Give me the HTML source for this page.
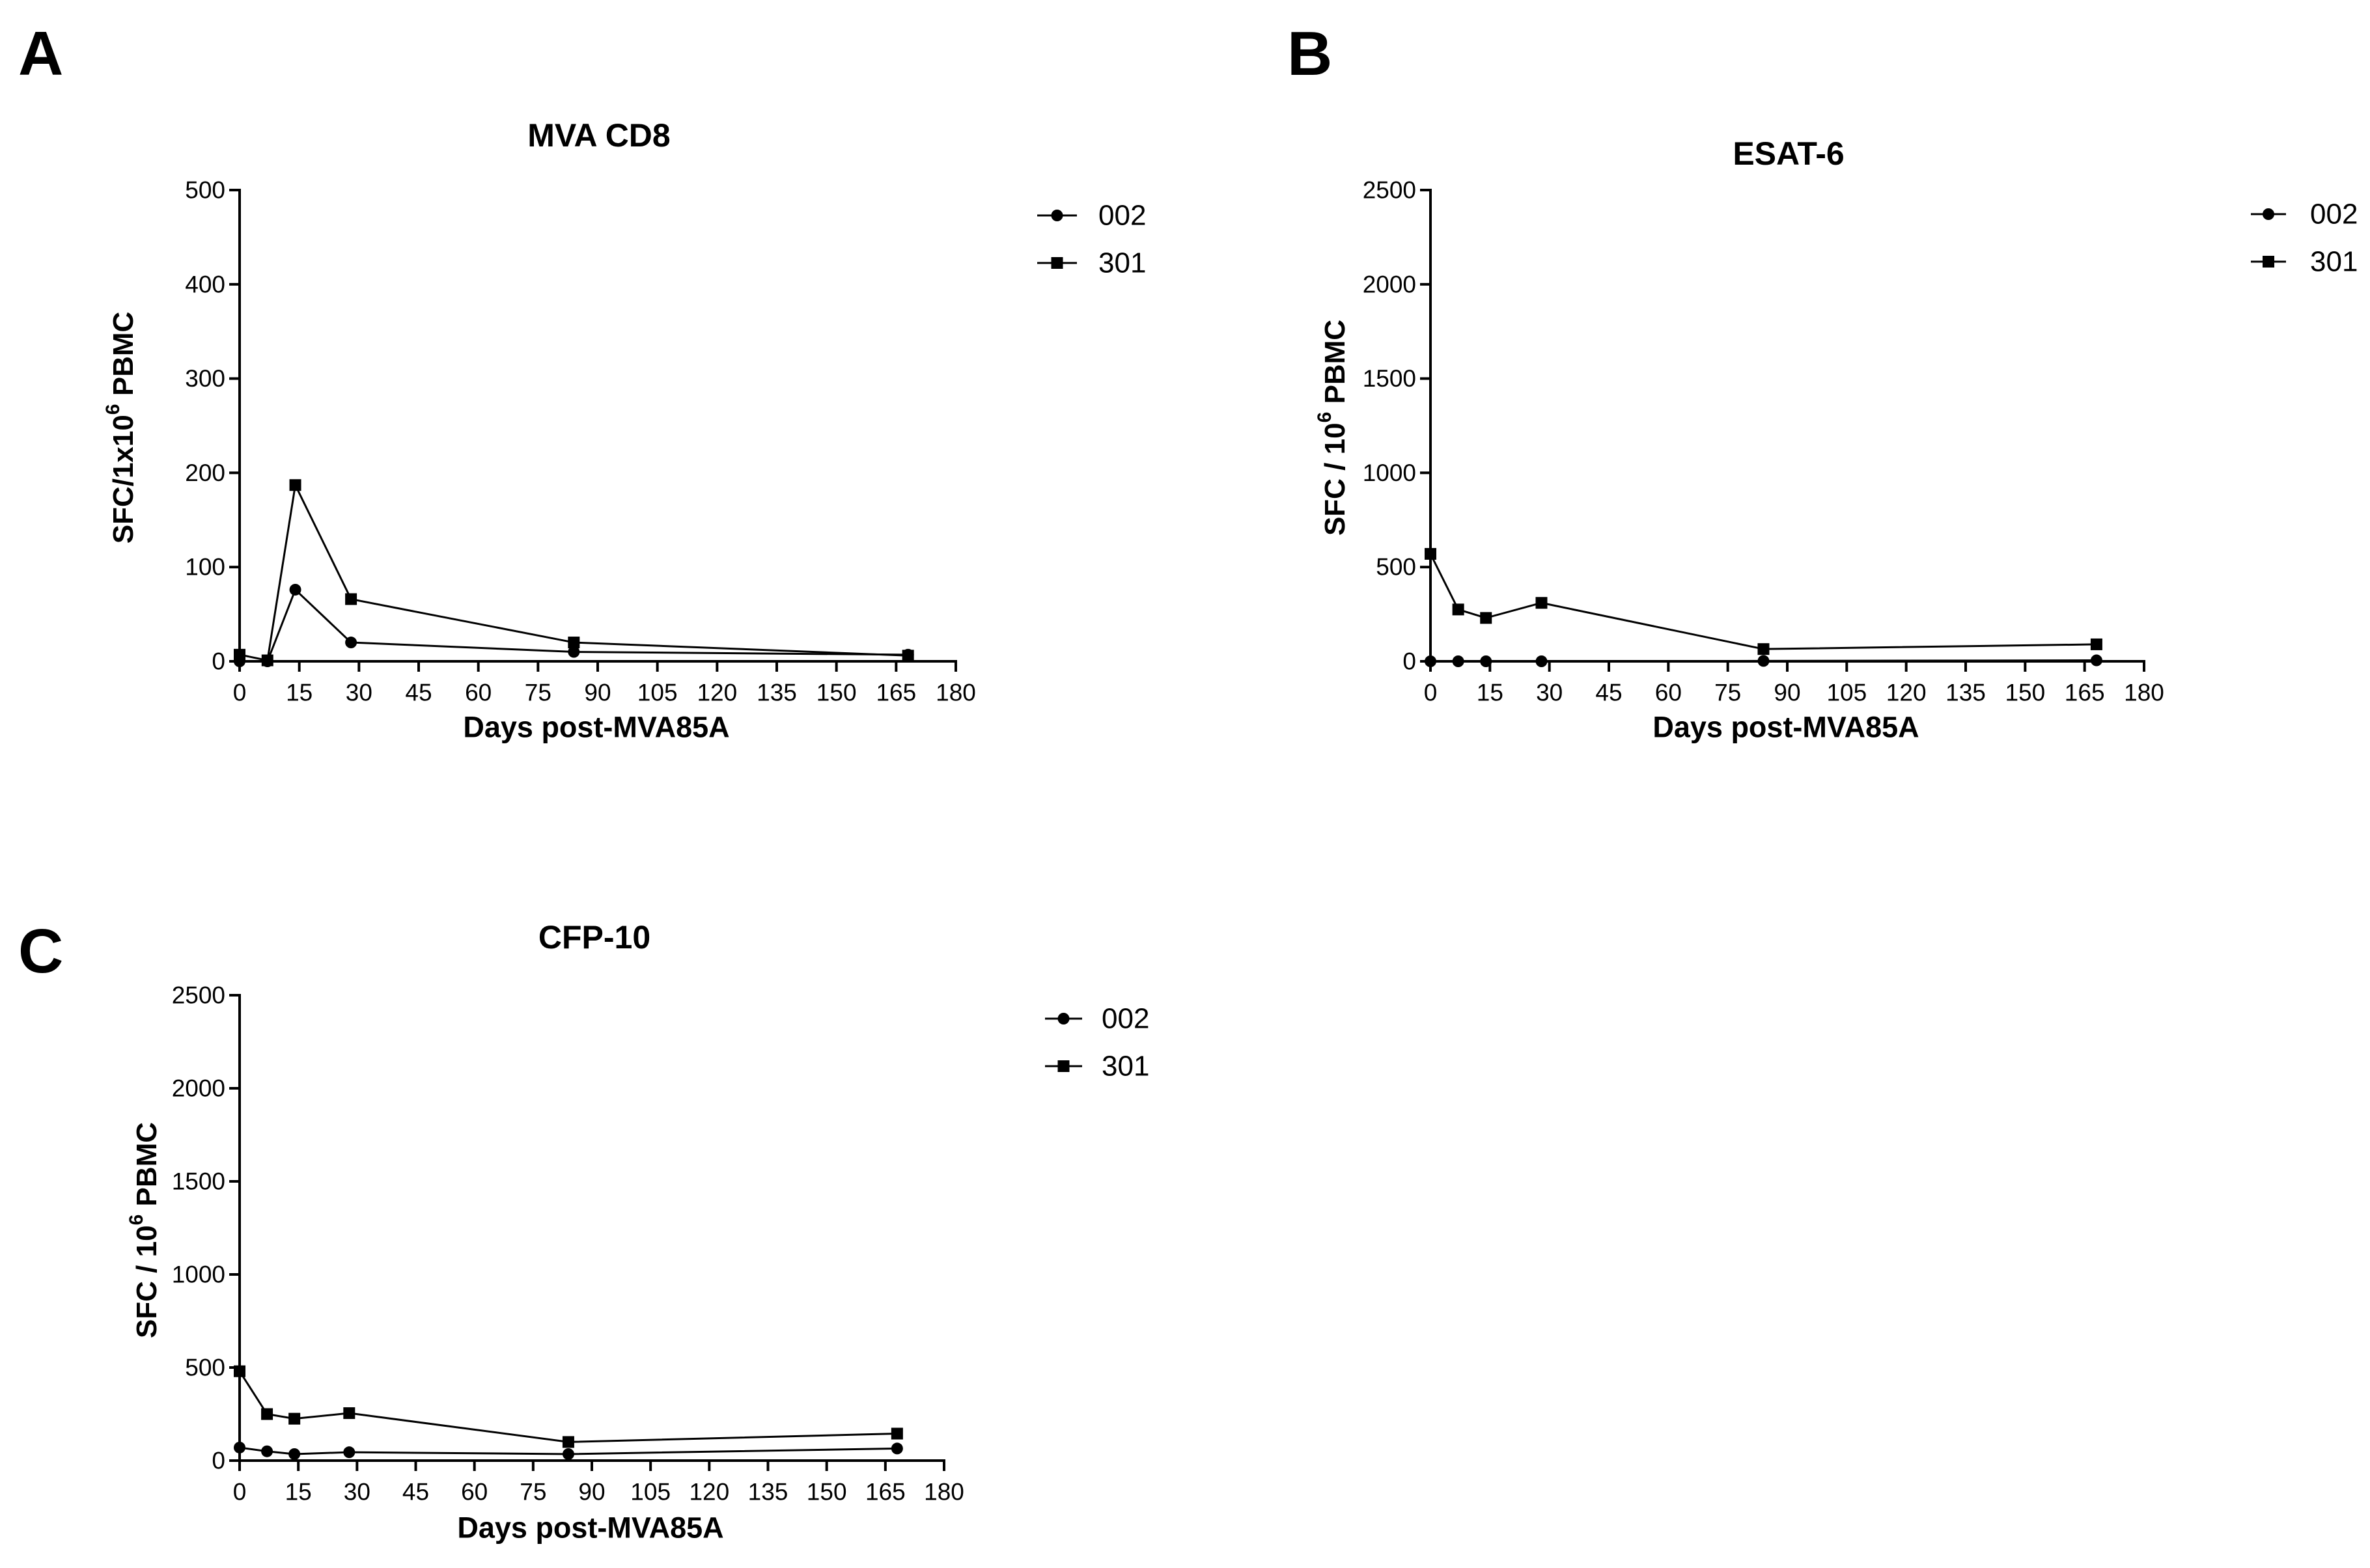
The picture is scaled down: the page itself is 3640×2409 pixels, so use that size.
<!DOCTYPE html>
<html><head><meta charset="utf-8"><style>
html,body{margin:0;padding:0;background:#fff}
svg{display:block}
text{font-family:"Liberation Sans",Arial,sans-serif;fill:#000}
</style></head><body>
<svg id="fig" width="3640" height="2409" viewBox="0 0 3640 2409" xmlns="http://www.w3.org/2000/svg"></svg>
<script>
const days = [0, 7, 14, 28, 84, 168];
const xTicks = [0,15,30,45,60,75,90,105,120,135,150,165,180];
const seriesNames = ["002", "301"];
const aS002 = [0, 0, 76, 20, 10, 7];
const aS301 = [7, 1, 187, 66, 20, 6];
const aYTicks = [0, 100, 200, 300, 400, 500];
const bS002 = [0, 0, 0, 0, 2, 5];
const bS301 = [570, 275, 230, 310, 65, 90];
const bYTicks = [0, 500, 1000, 1500, 2000, 2500];
const cS002 = [70, 50, 35, 45, 35, 65];
const cS301 = [480, 250, 225, 255, 100, 145];
const cYTicks = [0, 500, 1000, 1500, 2000, 2500];

const NS = "http://www.w3.org/2000/svg";
const svg = document.getElementById('fig');
function mk(tag, attrs, parent, txt){
  const e = document.createElementNS(NS, tag);
  for (const k in attrs) e.setAttribute(k, attrs[k]);
  if (txt !== undefined) e.textContent = txt;
  (parent||svg).appendChild(e);
  return e;
}

function panel(cfg){
  const g = mk('g', {});
  
  
  const {x0, x1, y0, y1} = cfg;
  const ymax = cfg.yTicks[cfg.yTicks.length-1];
  const sx = d => x0 + (d/180)*(x1-x0);
  const sy = v => y0 - (v/ymax)*(y0-y1);

  const lab = mk('text', {x: cfg.labX, y: cfg.labY, 'font-size': 96, 'font-weight': 'bold'}, g, cfg.letter);
  
  
  const t = mk('text', {x: cfg.titleX, y: cfg.titleY, 'font-size': 50, 'font-weight': 'bold', 'text-anchor': 'middle', 'dominant-baseline': 'central'}, g, cfg.title);
  
  

  const ya = mk('line', {x1: x0, y1: y1-2, x2: x0, y2: y0+2, stroke: '#000', 'stroke-width': 4}, g);
  
  
  const xa = mk('line', {x1: x0-2, y1: y0, x2: x1+2, y2: y0, stroke: '#000', 'stroke-width': 4}, g);
  
  

  cfg.yTicks.forEach(v => {
    mk('line', {x1: x0-16, y1: sy(v), x2: x0, y2: sy(v), stroke: '#000', 'stroke-width': 4}, g);
    const tl = mk('text', {x: x0-22, y: sy(v), 'font-size': 37, 'text-anchor': 'end', 'dominant-baseline': 'central'}, g, String(v));
    
    
  });
  xTicks.forEach(d => {
    mk('line', {x1: sx(d), y1: y0, x2: sx(d), y2: y0+16, stroke: '#000', 'stroke-width': 4}, g);
    const tl = mk('text', {x: sx(d), y: y0+48, 'font-size': 37, 'text-anchor': 'middle', 'dominant-baseline': 'central'}, g, String(d));
    
    
  });

  const xt = mk('text', {x: (x0+x1)/2 - 2, y: cfg.xTitleY, 'font-size': 45, 'font-weight': 'bold', 'text-anchor': 'middle', 'dominant-baseline': 'central'}, g, 'Days post-MVA85A');
  
  

  const yt = mk('text', {x: 0, y: 0, 'font-size': 44, 'font-weight': 'bold', 'text-anchor': 'middle', 'dominant-baseline': 'central', transform: `translate(${cfg.yTitleX},${cfg.yTitleY}) rotate(-90)`}, g);
  
  
  mk('tspan', {}, yt, cfg.yPre);
  mk('tspan', {'font-size': 30, dy: -16}, yt, '6');
  mk('tspan', {dy: 16}, yt, ' PBMC');

  const series = [cfg.s002, cfg.s301];
  series.forEach((vals, si) => {
    const pts = days.map((d,i) => sx(d) + ',' + sy(vals[i])).join(' ');
    const pl = mk('polyline', {points: pts, fill: 'none', stroke: '#000', 'stroke-width': 3}, g);
    
    
    days.forEach((d,i) => {
      let m;
      if (si === 0) m = mk('circle', {cx: sx(d), cy: sy(vals[i]), r: 9, fill: '#000'}, g);
      else m = mk('rect', {x: sx(d)-9, y: sy(vals[i])-9, width: 18, height: 18, fill: '#000'}, g);
      
      
    });
  });

  seriesNames.forEach((n, si) => {
    const ly = cfg.legY[si];
    const lg = mk('g', {}, g);
    
    
    mk('line', {x1: cfg.legX1, y1: ly, x2: cfg.legX2, y2: ly, stroke: '#000', 'stroke-width': 3}, lg);
    const mx = (cfg.legX1 + cfg.legX2)/2;
    if (si === 0) mk('circle', {cx: mx, cy: ly, r: 9, fill: '#000'}, lg);
    else mk('rect', {x: mx-9, y: ly-9, width: 18, height: 18, fill: '#000'}, lg);
    mk('text', {x: cfg.legTX, y: ly, 'font-size': 44, 'dominant-baseline': 'central'}, lg, n);
  });
}

panel({id:'a', letter:'A', labX:28, labY:115, title:'MVA CD8', titleX:920, titleY:208,
  x0:368, x1:1468, y0:1016, y1:292, yTicks:aYTicks, s002:aS002, s301:aS301,
  xTitleY:1117, yTitleX:189, yTitleY:657, yPre:'SFC/1x10',
  legX1:1593, legX2:1654, legTX:1687, legY:[331,404]});
panel({id:'b', letter:'B', labX:1977, labY:115, title:'ESAT-6', titleX:2747, titleY:236,
  x0:2197, x1:3293, y0:1016, y1:292, yTicks:bYTicks, s002:bS002, s301:bS301,
  xTitleY:1117, yTitleX:2050, yTitleY:657, yPre:'SFC / 10',
  legX1:3457, legX2:3511, legTX:3548, legY:[329,402]});
panel({id:'c', letter:'C', labX:28, labY:1494, title:'CFP-10', titleX:913, titleY:1440,
  x0:368, x1:1450, y0:2244, y1:1529, yTicks:cYTicks, s002:cS002, s301:cS301,
  xTitleY:2347, yTitleX:225, yTitleY:1890, yPre:'SFC / 10',
  legX1:1605, legX2:1662, legTX:1692, legY:[1565,1638]});
</script>
</body></html>
